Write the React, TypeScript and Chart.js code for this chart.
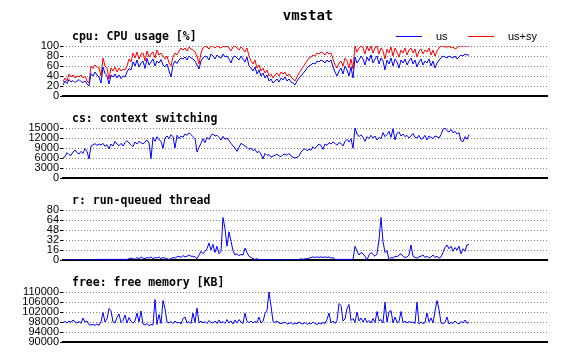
import React, { useEffect, useRef } from "react";
import { Chart, registerables } from "chart.js";

Chart.register(...registerables);

// ---------- data (one sample every ~2 px of the original plot) ----------
const xMax = 242;

const cpuTicks = [0, 20, 40, 60, 80, 100];
const csTicks = [0, 3000, 6000, 9000, 12000, 15000];
const rTicks = [0, 16, 32, 48, 64, 80];
const freeTicks = [90000, 94000, 98000, 102000, 106000, 110000];

const usValues = [
  22, 30, 25, 33, 28, 31, 27, 30, 33, 29,
  27, 30, 24, 20, 45, 40, 48, 42, 38, 26,
  58, 45, 40, 24, 42, 38, 44, 36, 42, 35,
  40, 38, 48, 55, 52, 68, 60, 72, 58, 66,
  70, 55, 75, 62, 68, 74, 60, 70, 66, 73,
  62, 58, 64, 50, 38, 62, 70, 65, 72, 76,
  74, 78, 72, 80, 76, 74, 70, 62, 54, 70,
  76, 80, 78, 72, 84, 80, 74, 82, 78, 76,
  84, 78, 80, 74, 66, 78, 80, 76, 72, 80,
  74, 68, 78, 60, 56, 50, 58, 44, 52, 40,
  46, 36, 42, 30, 34, 26, 30, 34, 28, 36,
  32, 38, 30, 34, 28, 26, 22, 30, 36, 40,
  45, 50, 56, 60, 62, 66, 64, 70, 68, 72,
  70, 66, 72, 68, 72, 58, 48, 40, 50, 56,
  44, 60, 52, 40, 58, 36, 78, 66, 72, 80,
  74, 62, 78, 70, 82, 66, 74, 80, 64, 76,
  70, 52, 72, 64, 76, 60, 74, 68, 56, 72,
  66, 74, 62, 70, 76, 64, 72, 58, 68, 74,
  62, 70, 66, 74, 60, 70, 56, 66, 72, 76,
  80, 78, 76, 80, 78, 76, 80, 74, 78, 82,
  80, 84, 82, 82,
];

const usSyValues = [
  28, 36, 30, 44, 38, 42, 36, 40, 38, 42,
  36, 40, 30, 26, 60, 55, 62, 58, 56, 40,
  76, 60, 56, 34, 56, 50, 58, 48, 56, 50,
  54, 52, 60, 74, 68, 86, 76, 88, 74, 84,
  86, 70, 90, 78, 84, 88, 76, 92, 82, 86,
  80, 74, 80, 66, 60, 78, 86, 82, 90, 96,
  92, 96, 90, 98, 94, 92, 88, 80, 64, 86,
  96, 100, 98, 94, 100, 100, 96, 100, 98, 96,
  100, 98, 100, 96, 90, 98, 100, 96, 92, 98,
  94, 88, 96, 80, 70, 64, 72, 56, 62, 50,
  56, 46, 52, 40, 44, 36, 42, 46, 40, 48,
  44, 48, 40, 44, 38, 34, 30, 38, 46, 52,
  58, 64, 70, 76, 78, 82, 80, 86, 84, 88,
  86, 82, 88, 84, 86, 74, 62, 56, 66, 70,
  60, 76, 70, 56, 74, 54, 100, 88, 96, 100,
  96, 84, 100, 90, 100, 86, 96, 100, 84, 96,
  90, 74, 94, 86, 98, 80, 96, 88, 78, 92,
  86, 96, 82, 92, 96, 86, 94, 78, 90, 94,
  84, 92, 88, 96, 82, 92, 80, 90, 96, 100,
  100, 98, 98, 100, 96, 98, 94, 96, 100, 100,
  100, 100, 100, 100,
];

const csValues = [
  6000, 6400, 7600, 7000, 6800, 7800, 8400, 7600, 7200, 8000,
  7400, 8800, 8000, 5700, 9600, 10000, 10300, 9800, 10200, 9900,
  10400, 9500, 10000, 8700, 10200, 9600, 11000, 10200, 9700, 10400,
  9600, 10600, 11200, 10500, 10000, 9400, 10800, 10200, 11000, 10600,
  10200, 10800, 11400, 10500, 5800, 12200, 11000, 12400, 11500, 11000,
  8900, 12000, 12600, 11800, 13000, 12400, 9000, 12800, 11800, 12600,
  12200, 13200, 12800, 13600, 13000, 12400, 11800, 7800, 9200, 10400,
  11800, 10600, 12200, 11600, 12800, 13200, 12600, 12800, 12200, 11400,
  12500, 11600, 12000, 11200, 10400, 9600, 9000, 8000, 9200, 10400,
  10000, 9600, 9200, 8600, 9000, 8200, 8600, 7600, 8000, 7200,
  5700, 7400, 6800, 7000, 6200, 6600, 6800, 7200, 6600, 6400,
  7000, 7200, 6800, 7400, 6600, 6200, 6000, 6200, 6600, 7800,
  8400, 8800, 8200, 8600, 8400, 9400, 8800, 9600, 10200, 9800,
  8600, 10200, 9800, 10600, 10200, 10800, 10400, 9800, 10600, 10400,
  9600, 11000, 11600, 10800, 11800, 8900, 15000, 13200, 12400, 13000,
  12200, 11000, 12400, 11800, 12800, 12000, 12600, 11400, 12200, 11800,
  13600, 12400, 13000, 14000, 12200, 14800, 11400, 13400, 13800, 12600,
  13200, 12400, 12800, 12000, 12600, 13400, 12200, 12000, 12800, 11600,
  12000, 12800, 11400, 12600, 12200, 11800, 12600, 12400, 12000, 13000,
  14600, 15000, 14200, 13800, 14600, 13600, 14000, 13200, 13600, 11200,
  10900, 12400, 11600, 13000,
];

const rValues = [
  0, 0, 0, 0, 0, 0, 1, 0, 0, 0,
  0, 0, 1, 0, 1, 0, 0, 1, 1, 1,
  1, 1, 1, 1, 1, 1, 1, 1, 1, 1,
  1, 1, 1, 2, 3, 2, 1, 4, 2, 5,
  3, 2, 4, 3, 5, 2, 4, 3, 5, 2,
  4, 3, 2, 1, 2, 4, 3, 5, 6, 4,
  7, 5, 6, 8, 6, 6, 5, 2, 8, 14,
  10, 14, 18, 27, 16, 25, 12, 22, 10, 14,
  68, 50, 22, 45, 30, 15, 8, 10, 7, 9,
  8, 19, 12, 6, 4, 2, 1, 2, 0, 1,
  0, 1, 0, 0, 1, 0, 0, 1, 0, 0,
  0, 0, 1, 0, 0, 1, 0, 0, 1, 2,
  1, 2, 2, 3, 4, 5, 4, 5, 4, 5,
  4, 5, 4, 5, 3, 4, 1, 1, 1, 1,
  1, 1, 1, 1, 1, 1, 22, 14, 8, 12,
  10, 6, 0, 8, 12, 9, 6, 10, 32, 68,
  30, 12, 15, 0, 4, 3, 6, 5, 8, 10,
  6, 4, 5, 8, 24, 6, 4, 3, 5, 6,
  8, 4, 6, 3, 5, 8, 4, 6, 3, 5,
  12, 20, 24, 18, 22, 14, 20, 16, 22, 10,
  18, 14, 24, 25,
];

const freeValues = [
  97800, 98200, 97600, 98400, 97900, 98800, 98000, 97600, 98200, 97500,
  99600, 98000, 98400, 96900, 96800, 97000, 96700, 97200, 96600, 98000,
  101800, 98000, 99200, 103400, 102500, 98000, 97600, 99800, 101200, 97800,
  98600, 100800, 97600, 99800, 98200, 97600, 98400, 101600, 98000, 102400,
  97200, 96800, 97400, 96500, 97000, 96800, 107000, 97000, 101000, 97400,
  106600, 103400, 98000, 97600, 98200, 97400, 98400, 97600, 98000, 97200,
  99400, 100000, 97600, 98200, 97400, 101600, 97800, 103600, 97600, 98400,
  97600, 98200, 97400, 98600, 97800, 97600, 98400, 97400, 98800, 97600,
  98200, 97400, 99000, 97600, 98400, 97200, 98800, 97600, 99000, 98000,
  97400, 101600, 98200, 97800, 98400, 97600, 98200, 97800, 100000, 97600,
  98200, 101400, 102600, 110000, 104400, 98200, 97800, 98400, 97600, 97400,
  97600, 98000, 97200, 97400, 97800, 97000, 97600, 97200, 98000, 97400,
  97200, 97800, 97000, 97600, 97200, 98000, 97400, 97000, 97600, 97200,
  97800, 97400, 99000, 101600, 97600, 98400, 97400, 98600, 105400, 104600,
  98400, 99200, 103400, 105000, 98600, 99400, 97800, 102000, 98400, 99600,
  98000, 99600, 97800, 98600, 97600, 99400, 97800, 102200, 98400, 99000,
  97600, 106000, 98000, 102000, 102600, 97600, 100000, 97800, 98200, 102200,
  97800, 98400, 97600, 98200, 97800, 98000, 97400, 106000, 97200, 98000,
  97400, 97800, 101600, 98000, 99600, 97600, 102400, 106600, 103000, 97600,
  97400, 97800, 100000, 97200, 97800, 97400, 98400, 97600, 97200, 98200,
  97600, 98800, 97600, 97800,
];

// ---------- layout / style ----------
const W = 562;
const H = 359;
const PLOT_LEFT = 63;
const PLOT_RIGHT = 547;
const PLOT_H = 50;
const BLUE = "#0000ff";
const RED = "#ff0000";
const GRID = "#808080";
const MONO = '"DejaVu Sans Mono", "Liberation Mono", monospace';
const SANS = '"Liberation Sans", Arial, sans-serif';

type Series = { label: string; values: number[]; color: string };
type Panel = { title: string; top: number; ticks: number[]; series: Series[]; main?: boolean; legend?: boolean };

const panels: Panel[] = [
  {
    title: "cpu: CPU usage [%]",
    top: 46,
    ticks: cpuTicks,
    series: [
      { label: "us", values: usValues, color: BLUE },
      { label: "us+sy", values: usSyValues, color: RED },
    ],
    main: true,
    legend: true,
  },
  { title: "cs: context switching", top: 128, ticks: csTicks, series: [{ label: "cs", values: csValues, color: BLUE }] },
  { title: "r: run-queued thread", top: 210, ticks: rTicks, series: [{ label: "r", values: rValues, color: BLUE }] },
  { title: "free: free memory [KB]", top: 292, ticks: freeTicks, series: [{ label: "free", values: freeValues, color: BLUE }] },
];

const panelText = {
  id: "panelText",
  afterDraw(chart: any, _args: any, opts: any) {
    const ctx = chart.ctx;
    const area = chart.chartArea;
    ctx.save();
    ctx.fillStyle = "#000";
    ctx.textBaseline = "alphabetic";
    if (opts.main) {
      ctx.font = `bold 14px ${MONO}`;
      ctx.textAlign = "center";
      ctx.fillText("vmstat", 308, 20);
    }
    ctx.font = `bold 11.5px ${MONO}`;
    ctx.textAlign = "left";
    ctx.fillText(opts.title, area.left + 9, area.top - 6);
    if (opts.legend) {
      const starts = [396, 468];
      chart.data.datasets.forEach((ds: any, i: number) => {
        const x0 = starts[i];
        const y = area.top - 9.5;
        ctx.strokeStyle = ds.borderColor;
        ctx.lineWidth = 1;
        ctx.beginPath();
        ctx.moveTo(x0, y);
        ctx.lineTo(x0 + 26, y);
        ctx.stroke();
        ctx.fillStyle = "#000";
        ctx.font = `11px ${SANS}`;
        ctx.textAlign = "left";
        ctx.fillText(ds.label, x0 + 40, area.top - 6);
      });
    }
    ctx.restore();
  },
};

function PanelChart({ panel }: { panel: Panel }) {
  const ref = useRef<HTMLCanvasElement | null>(null);
  useEffect(() => {
    if (!ref.current) return;
    const tMin = panel.ticks[0];
    const tMax = panel.ticks[panel.ticks.length - 1];
    const step = panel.ticks[1] - panel.ticks[0];
    const chart = new Chart(ref.current, {
      type: "line",
      data: {
        datasets: panel.series.map((s) => ({
          label: s.label,
          data: s.values.map((v, i) => ({ x: i, y: v })),
          borderColor: s.color,
          backgroundColor: s.color,
          borderWidth: 1,
          pointRadius: 0,
          tension: 0,
          fill: false,
        })),
      },
      options: {
        animation: false,
        responsive: false,
        maintainAspectRatio: false,
        devicePixelRatio: 1,
        events: [],
        layout: {
          padding: { left: 0, right: W - PLOT_RIGHT, top: panel.top, bottom: H - (panel.top + PLOT_H) },
        },
        scales: {
          x: {
            type: "linear",
            min: 0,
            max: xMax,
            ticks: { display: false },
            grid: { display: false },
            border: { display: true, color: "#000", width: 2 },
            afterFit: (s: any) => {
              s.height = 0;
            },
          },
          y: {
            type: "linear",
            min: tMin,
            max: tMax,
            ticks: {
              stepSize: step,
              autoSkip: false,
              padding: 1,
              color: "#000",
              font: { family: SANS, size: 11 },
              callback: (v: any) => String(v),
            },
            grid: {
              color: (c: any) => (c.tick && c.tick.value === tMin ? "rgba(0,0,0,0)" : GRID),
              tickLength: 3,
              tickColor: "#000",
              tickBorderDash: [],
              tickWidth: 1,
              lineWidth: 1,
            },
            border: { display: false, dash: [1, 2] },
            afterFit: (s: any) => {
              s.width = PLOT_LEFT;
            },
          },
        },
        plugins: {
          legend: { display: false },
          title: { display: false },
          tooltip: { enabled: false },
          panelText: { title: panel.title, main: !!panel.main, legend: !!panel.legend },
        } as any,
      },
      plugins: [panelText],
    });
    return () => chart.destroy();
  }, [panel]);
  return (
    <canvas
      ref={ref}
      width={W}
      height={H}
      style={{ position: "absolute", left: 0, top: 0, width: W, height: H }}
    />
  );
}

export default function App() {
  return (
    <div style={{ position: "fixed", left: 0, top: 0, width: W, height: H, background: "#fff" }}>
      {panels.map((p) => (
        <PanelChart key={p.title} panel={p} />
      ))}
    </div>
  );
}
